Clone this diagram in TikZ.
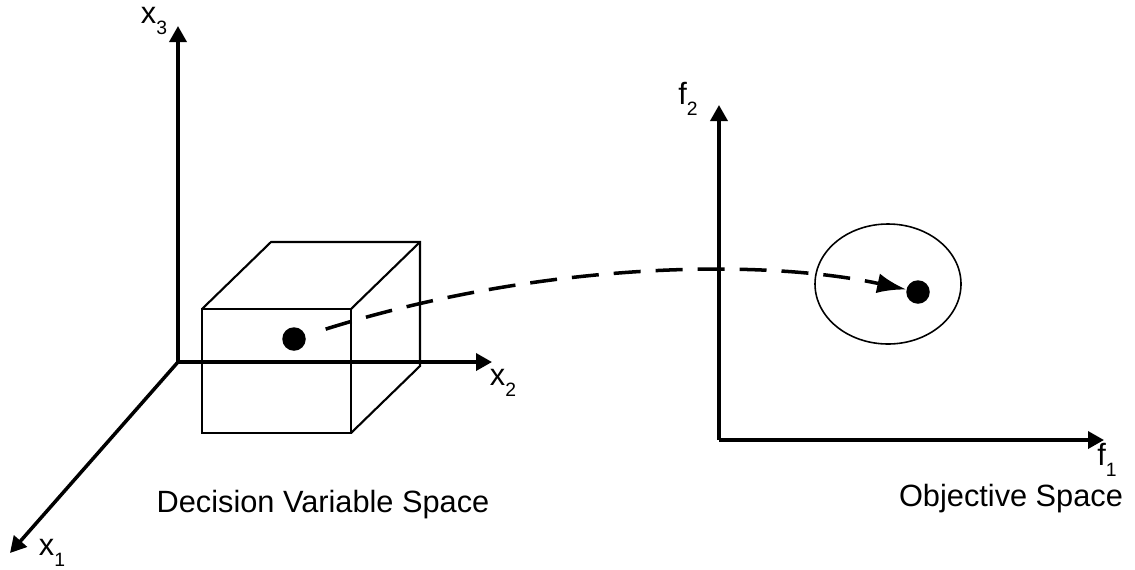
\documentclass[tikz,border=0pt]{standalone}
\usepackage{fontspec}
\setmainfont{Liberation Sans}
\usetikzlibrary{positioning,arrows.meta}
\newcommand{\lowsub}[1]{\raisebox{-0.7ex}{\fontsize{11}{12}\selectfont #1}}

\begin{document}
\begin{tikzpicture}[x=0.02cm,y=-0.02cm,font=\fontsize{17.5}{20}\selectfont,
  axis/.style={line width=2pt,-{Triangle[length=0.32cm,width=0.34cm]}},
  edge/.style={line width=1.2pt,line join=miter},
  pt/.style={circle,fill=black,inner sep=0pt,minimum size=0.47cm},
  lbl/.style={inner sep=0.5pt},
  map/.style={line width=2pt,dash pattern=on 0.54cm off 0.3cm,
    -{Latex[length=0.58cm,width=0.4cm]}}]
  \useasboundingbox (0,0) rectangle (1135,569);
  % decision variable space
  \coordinate (o) at (178,362);
  \coordinate (x1end) at (10,553);
  \coordinate (x2end) at (492,362);
  \coordinate (x3end) at (178,26);
  \draw[edge] (202,309) rectangle (351,433);
  \draw[edge] (202,309) -- (271,242) -- (420,242) -- (420,366) -- (351,433);
  \draw[edge] (351,309) -- (420,242);
  \draw[axis] (o) -- (x1end);
  \draw[axis] (o) -- (x2end);
  \draw[axis] (o) -- (x3end);
  \node[lbl] (lx1) at (52,553) {x\lowsub{1}};
  \node[lbl] (lx2) at (503,383) {x\lowsub{2}};
  \node[lbl] (lx3) at (154,21) {x\lowsub{3}};
  \node[lbl] (dvs) at (323,505) {Decision Variable Space};
  \node[pt] (p) at (294,339) {};
  % objective space
  \coordinate (fo) at (719,440);
  \coordinate (f1end) at (1104,440);
  \coordinate (f2end) at (719,105);
  \draw[axis] (fo) -- (f1end);
  \draw[axis] (fo) -- (f2end);
  \node[lbl] (lf1) at (1107,460) {f\lowsub{1}};
  \node[lbl] (lf2) at (688,99) {f\lowsub{2}};
  \node[lbl] (os) at (1011,499) {Objective Space};
  \draw[line width=0.9pt] (888,284) ellipse [x radius=73,y radius=60];
  \node[pt] (q) at (918,292) {};
  % mapping
  \draw[map,shorten <=12] (p) .. controls (540,262) and (760,258) .. (q);
\end{tikzpicture}
\end{document}
